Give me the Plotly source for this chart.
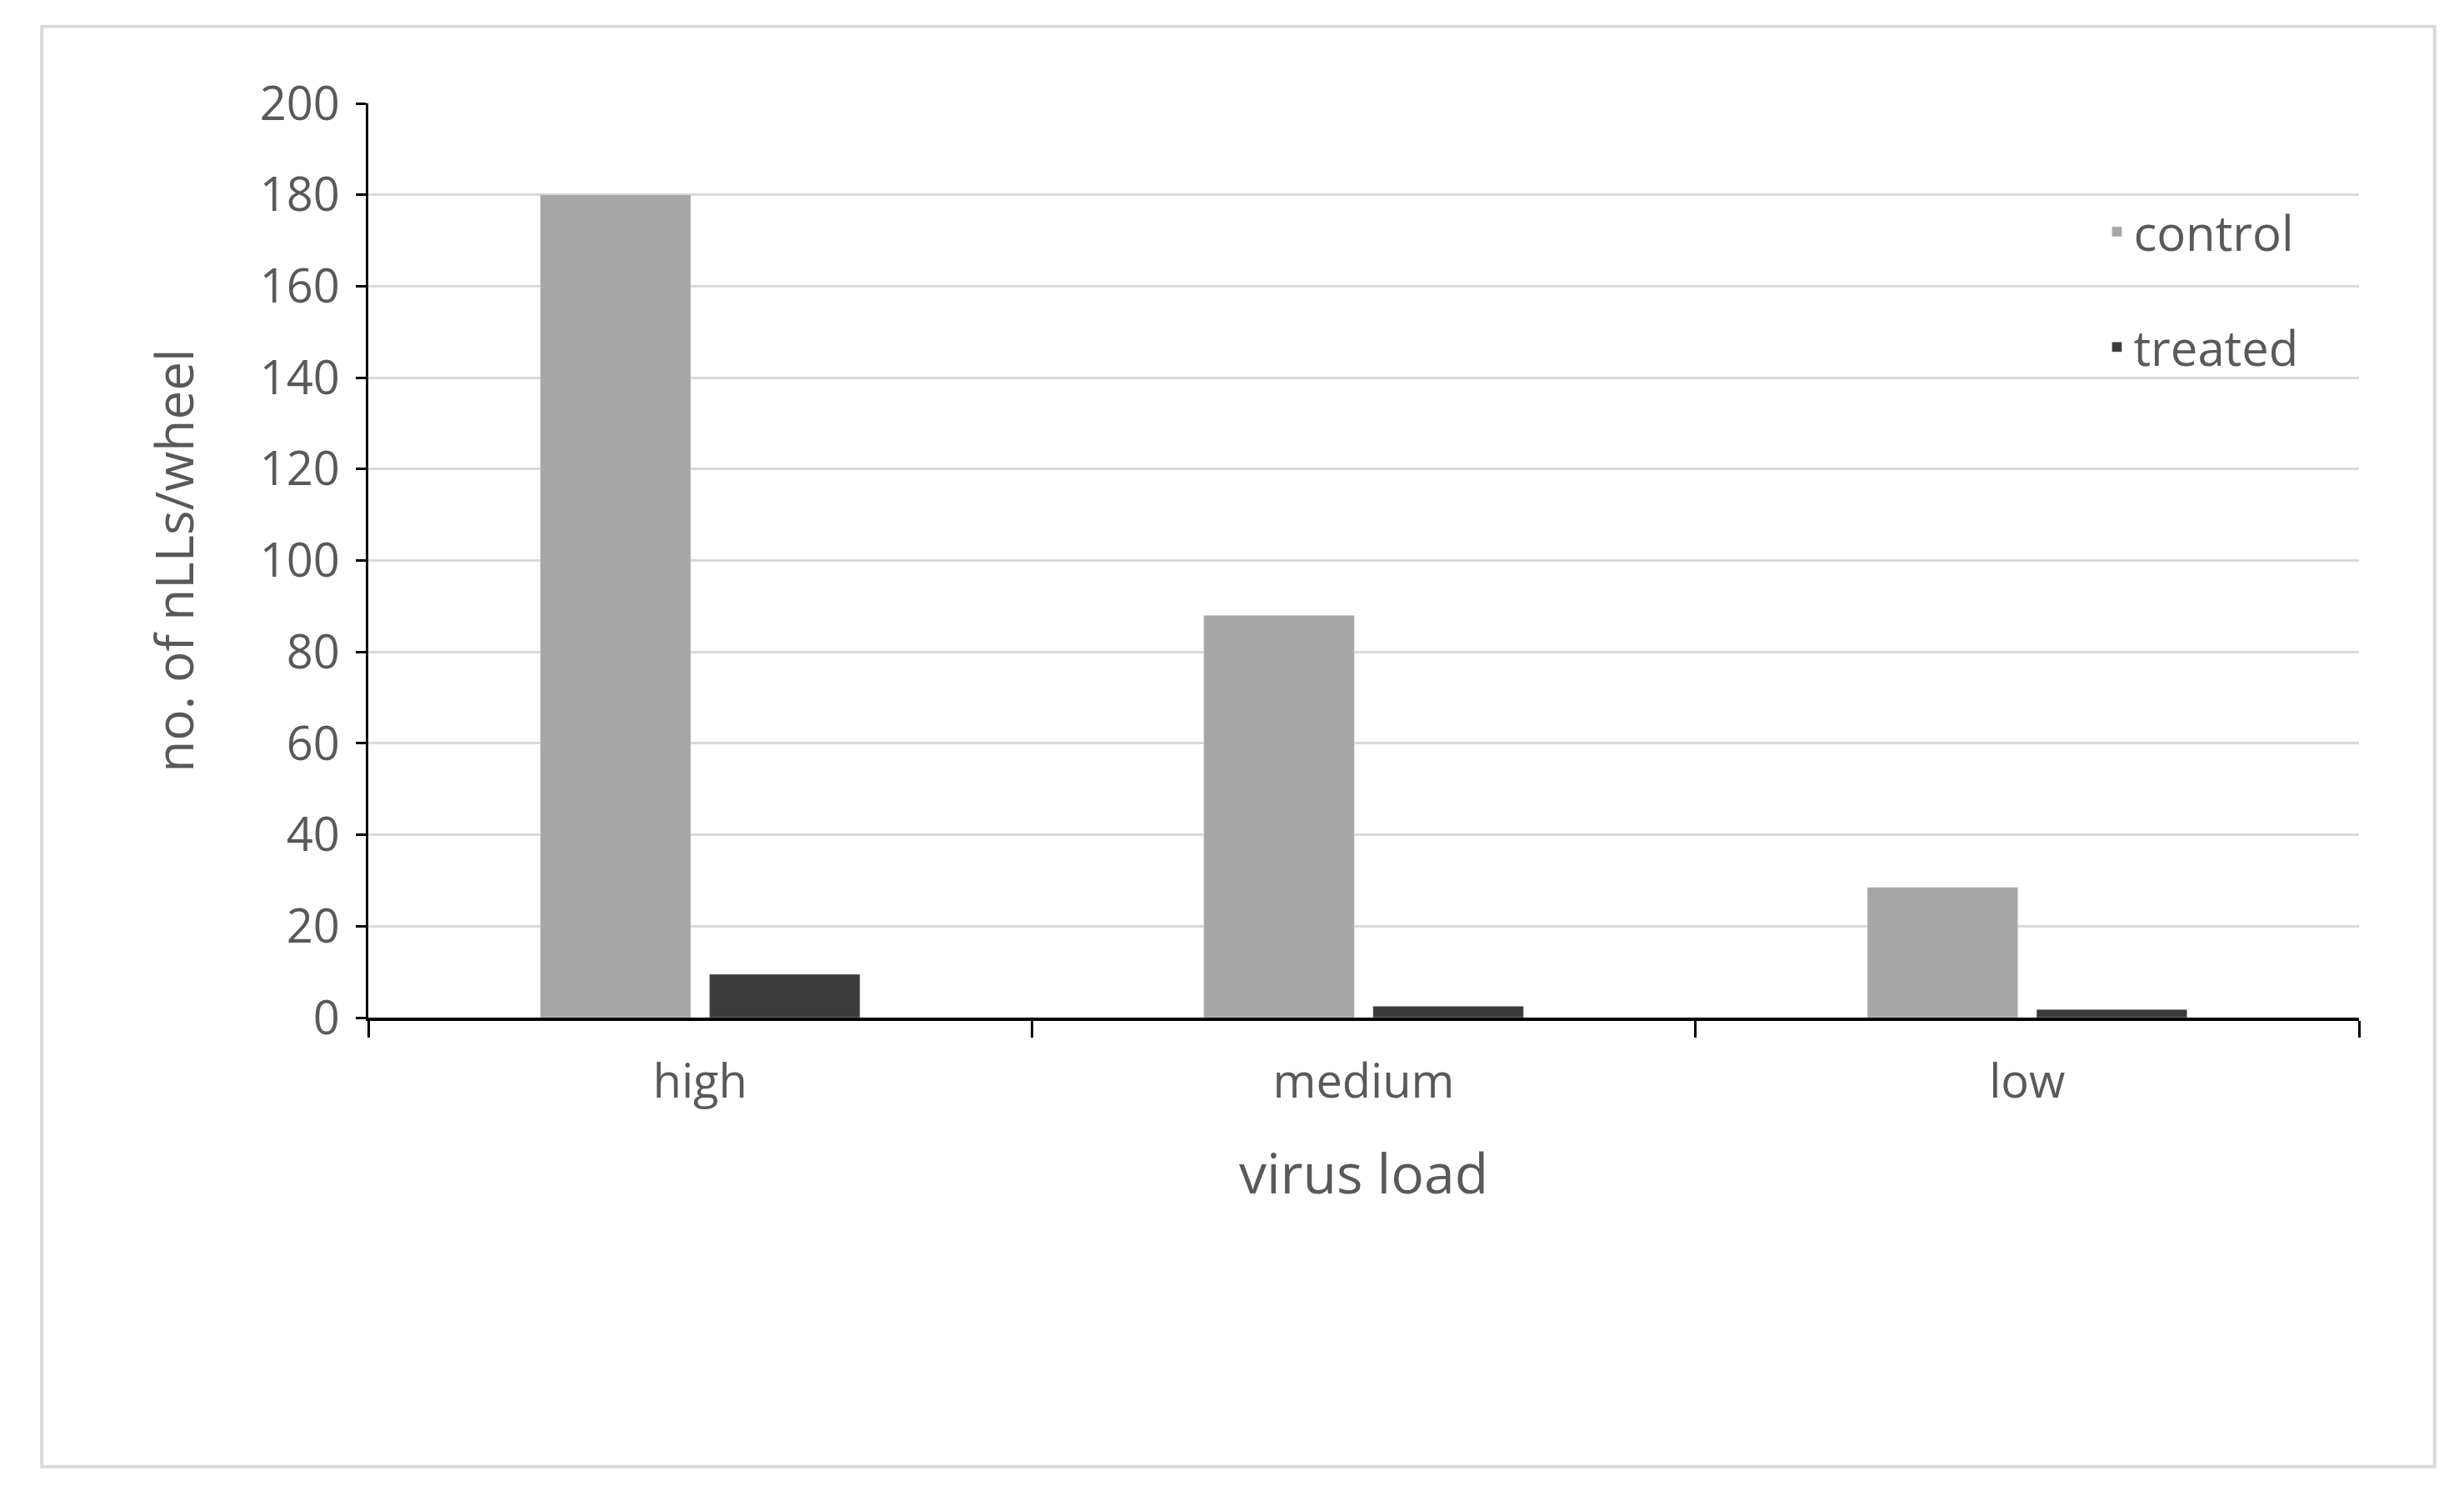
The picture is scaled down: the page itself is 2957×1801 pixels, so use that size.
import plotly.graph_objects as go

categories = ["high", "medium", "low"]
control = [180, 88, 28.5]
treated = [9.5, 2.5, 1.8]
y_ticks = [0, 20, 40, 60, 80, 100, 120, 140, 160, 180, 200]

F = "Open Sans"
fig = go.Figure()
fig.add_bar(x=categories, y=control, name="control", marker_color="#a6a6a6", legendgroup="a")
fig.add_bar(x=categories, y=treated, name="treated", marker_color="#3b3b3b", legendgroup="b")
fig.update_layout(
    width=2957, height=1801, paper_bgcolor="white", plot_bgcolor="white",
    margin=dict(l=434, r=134, t=116, b=588),
    barmode="group", bargap=0.49, bargroupgap=0.11,
    font=dict(family=F, size=56, color="#595959"),
    legend=dict(x=0.87, y=0.90, xanchor="left", yanchor="top", bgcolor="rgba(0,0,0,0)",
                font=dict(size=58, color="#595959"), tracegroupgap=60, itemwidth=30),
    shapes=[dict(type="rect", xref="paper", yref="paper", x0=-0.164, x1=1.038, y0=-0.491, y1=1.084,
                 line=dict(color="#d9d9d9", width=4))],
)
fig.update_yaxes(range=[0, 200], tickvals=y_ticks, gridcolor="#d9d9d9", gridwidth=3,
                 showline=True, linecolor="black", linewidth=3, ticks="outside", ticklen=12,
                 tickcolor="black", tickwidth=3, zeroline=False, ticklabelstandoff=8,
                 title=dict(text="no. of nLLs/wheel", font=dict(size=62, color="#595959"), standoff=60))
fig.update_xaxes(showline=True, linecolor="black", linewidth=4, ticks="outside", ticklen=20,
                 tickcolor="black", tickwidth=3, tickson="boundaries", ticklabelstandoff=25,
                 title=dict(text="virus load", font=dict(size=66, color="#595959"), standoff=55))
fig.write_html("out.html")
